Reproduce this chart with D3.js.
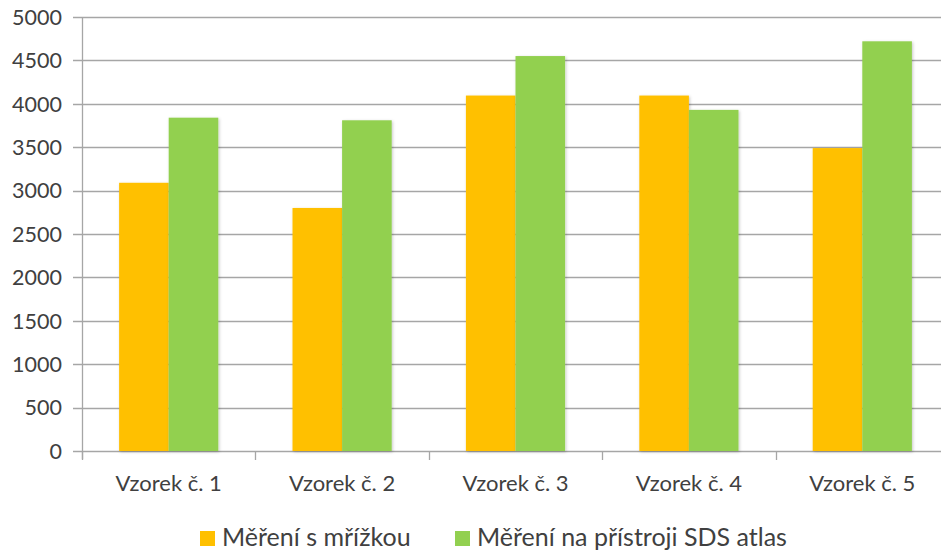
<!DOCTYPE html>
<html>
<head>
<meta charset="utf-8">
<script src="https://cdn.jsdelivr.net/npm/d3@7"></script>
<style>
  body { margin: 0; background: #fff; }
  text { font-family: Lato, "Open Sans", sans-serif; fill: #404040; }
</style>
</head>
<body>
<script>
// data
var categories = ['Vzorek č. 1', 'Vzorek č. 2', 'Vzorek č. 3', 'Vzorek č. 4', 'Vzorek č. 5'];
var seriesNames = ['Měření s mřížkou', 'Měření na přístroji SDS atlas'];
var gridValues = [3090, 2800, 4095, 4095, 3490];
var atlasValues = [3840, 3810, 4550, 3930, 4720];
var yTicks = [0, 500, 1000, 1500, 2000, 2500, 3000, 3500, 4000, 4500, 5000];
var colors = ['#FFC000', '#92D050'];

var width = 941, height = 554;
var plotLeft = 82, plotRight = 949, plotTop = 17, plotBottom = 451;

var svg = d3.select('body').append('svg')
  .attr('width', width)
  .attr('height', height);

// soft shadow like the office chart
var defs = svg.append('defs');
defs.append('filter').attr('id', 'shadow')
  .attr('x', '-20%').attr('y', '-5%').attr('width', '140%').attr('height', '110%')
  .append('feDropShadow')
  .attr('dx', 1).attr('dy', 1).attr('stdDeviation', 1.6)
  .attr('flood-color', '#000').attr('flood-opacity', 0.22);

var y = d3.scaleLinear().domain([0, 5000]).range([plotBottom, plotTop]);
var x0 = d3.scaleBand().domain(categories).range([plotLeft, plotRight]).padding(0);
var groupW = x0.bandwidth() * 0.572;
var x1 = d3.scaleBand().domain([0, 1]).range([0, groupW]);

// gridlines + y ticks
svg.append('g').selectAll('line').data(yTicks).enter().append('line')
  .attr('x1', plotLeft - 9).attr('x2', width)
  .attr('y1', d => Math.round(y(d)) + 0.5).attr('y2', d => Math.round(y(d)) + 0.5)
  .attr('stroke', '#a6a6a6').attr('stroke-width', 1.3);

svg.append('g').selectAll('text').data(yTicks).enter().append('text')
  .attr('x', 62).attr('y', d => y(d))
  .attr('dy', '0.36em')
  .attr('text-anchor', 'end')
  .style('font-size', '21.5px')
  .text(d => d);

// y axis line
svg.append('line')
  .attr('x1', plotLeft + 0.5).attr('x2', plotLeft + 0.5)
  .attr('y1', plotTop).attr('y2', plotBottom + 8)
  .attr('stroke', '#a6a6a6').attr('stroke-width', 1.3);

// category ticks
var catTicks = categories.map(c => x0(c)).concat([plotRight]);
svg.append('g').selectAll('line').data(catTicks).enter().append('line')
  .attr('x1', d => Math.round(d) + 0.5).attr('x2', d => Math.round(d) + 0.5)
  .attr('y1', plotBottom).attr('y2', plotBottom + 9)
  .attr('stroke', '#a6a6a6').attr('stroke-width', 1.3);

// bars
var series = [gridValues, atlasValues];
var groups = svg.append('g').selectAll('g').data(categories).enter().append('g')
  .attr('transform', c => 'translate(' + (x0(c) + (x0.bandwidth() - groupW) / 2) + ',0)');

groups.selectAll('rect')
  .data((c, i) => series.map((s, k) => ({k: k, v: s[i]})))
  .enter().append('rect')
  .attr('x', d => x1(d.k))
  .attr('y', d => y(d.v))
  .attr('width', x1.bandwidth())
  .attr('height', d => plotBottom - y(d.v))
  .attr('fill', d => colors[d.k])
  .attr('filter', 'url(#shadow)');

// category labels
svg.append('g').selectAll('text').data(categories).enter().append('text')
  .attr('x', c => x0(c) + x0.bandwidth() / 2)
  .attr('y', 491)
  .attr('text-anchor', 'middle')
  .style('font-size', '22px')
  .text(c => c);

// legend
var legendX = [200, 455];
var leg = svg.append('g').selectAll('g').data(seriesNames).enter().append('g')
  .attr('transform', (d, i) => 'translate(' + legendX[i] + ',531)');
leg.append('rect').attr('width', 15).attr('height', 15)
  .attr('fill', (d, i) => colors[i]);
leg.append('text').attr('x', 22).attr('y', 15)
  .style('font-size', '25px')
  .text(d => d);
</script>
</body>
</html>
